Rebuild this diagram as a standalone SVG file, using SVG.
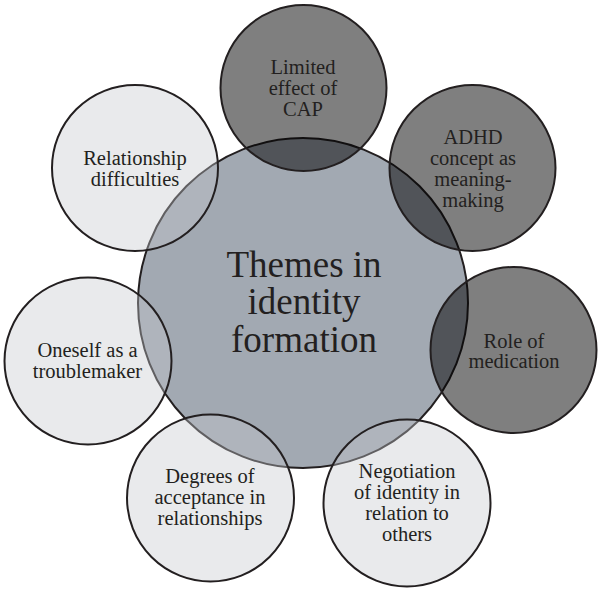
<svg xmlns="http://www.w3.org/2000/svg" width="602" height="591" viewBox="0 0 602 591">
<style>
  .core { fill: #a2a9b2; stroke: #231f20; stroke-width: 2; }
  .dark { fill: #000000; fill-opacity: 0.5; stroke: #231f20; stroke-width: 2; }
  .light { fill: #c6c8cc; fill-opacity: 0.38; stroke: #231f20; stroke-width: 2; }
  text { font-family: 'Liberation Serif', 'Times New Roman', serif; fill: #231f20; text-anchor: middle; }
  .t { font-size: 20.5px; }
  .big { font-size: 37px; }
</style>
<rect x="0" y="0" width="602" height="591" fill="#ffffff"/>
<g id="center">
  <circle class="core" cx="303" cy="303" r="165"/>
  <text class="big" x="304" y="277">Themes in</text>
  <text class="big" x="304" y="314">identity</text>
  <text class="big" x="304" y="352">formation</text>
</g>
<g id="limited-effect-of-cap">
  <circle class="dark" cx="303.5" cy="88" r="83"/>
  <text class="t" x="303" y="74">Limited</text>
  <text class="t" x="303" y="95">effect of</text>
  <text class="t" x="303" y="116">CAP</text>
</g>
<g id="adhd-concept">
  <circle class="dark" cx="472.5" cy="168" r="83"/>
  <text class="t" x="473" y="144">ADHD</text>
  <text class="t" x="473" y="165">concept as</text>
  <text class="t" x="473" y="186">meaning-</text>
  <text class="t" x="473" y="207">making</text>
</g>
<g id="role-of-medication">
  <circle class="dark" cx="513.5" cy="350" r="83"/>
  <text class="t" x="514" y="348">Role of</text>
  <text class="t" x="514" y="368">medication</text>
</g>
<g id="negotiation-of-identity">
  <circle class="light" cx="407" cy="503" r="83.5"/>
  <text class="t" x="407" y="478">Negotiation</text>
  <text class="t" x="407" y="499">of identity in</text>
  <text class="t" x="407" y="520">relation to</text>
  <text class="t" x="407" y="541">others</text>
</g>
<g id="degrees-of-acceptance">
  <circle class="light" cx="210.5" cy="498" r="83.5"/>
  <text class="t" x="210" y="483">Degrees of</text>
  <text class="t" x="210" y="504">acceptance in</text>
  <text class="t" x="210" y="525">relationships</text>
</g>
<g id="oneself-as-troublemaker">
  <circle class="light" cx="88" cy="361" r="83.5"/>
  <text class="t" x="87.5" y="357">Oneself as a</text>
  <text class="t" x="87.5" y="378">troublemaker</text>
</g>
<g id="relationship-difficulties">
  <circle class="light" cx="135" cy="168" r="83"/>
  <text class="t" x="135" y="165">Relationship</text>
  <text class="t" x="135" y="186">difficulties</text>
</g>
</svg>
